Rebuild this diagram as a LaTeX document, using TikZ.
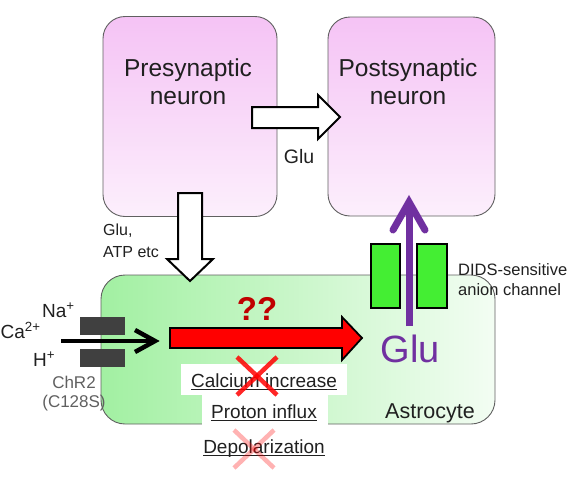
\documentclass[tikz,border=0pt]{standalone}
\usepackage{fontspec}
\setmainfont{Liberation Sans}
\definecolor{pinktop}{HTML}{F5C3F5}
\definecolor{pinkbot}{HTML}{FCEFFC}
\definecolor{greenL}{HTML}{A2F0A2}
\definecolor{greenR}{HTML}{F3FDF3}
\definecolor{chgreen}{HTML}{44EE33}
\definecolor{glupurple}{HTML}{7030A0}
\definecolor{qred}{HTML}{C00000}
\definecolor{chgray}{HTML}{404040}
\definecolor{labgray}{HTML}{606060}
\definecolor{txt}{HTML}{202020}
\definecolor{edge}{HTML}{606060}
\tikzset{
  x=1pt, y=-1pt,
  neuronbox/.style={draw=edge, line width=0.9pt, rounded corners=22pt,
     top color=pinktop, bottom color=pinkbot, inner sep=0pt},
  astrobox/.style={draw=edge, line width=0.9pt, rounded corners=24pt,
     left color=greenL, right color=greenR, inner sep=0pt},
  lbl/.style={inner sep=0pt, text=txt},
  blockarrow/.style={draw=black, line width=2pt, fill=white, line join=miter},
  chgate/.style={fill=chgray, draw=none},
  didsgate/.style={fill=chgreen, draw=black, line width=1.5pt},
  crossmark/.style={draw=red, line width=4.5pt},
  whitepad/.style={fill=white, draw=none},
}
\begin{document}
\begin{tikzpicture}
\useasboundingbox (0,0) rectangle (581,485);
% cells
\node[neuronbox, minimum width=174pt, minimum height=200pt] (pre) at (190,116.5) {};
\node[neuronbox, minimum width=167pt, minimum height=199pt] (post) at (411.5,116.5) {};
\node[astrobox, minimum width=394pt, minimum height=149pt] (astro) at (298,349.5) {};

% cell labels
\node[lbl, anchor=base, font=\fontsize{24.5}{28}\selectfont] (pret1) at (188,76) {Presynaptic};
\node[lbl, anchor=base, font=\fontsize{24.5}{28}\selectfont] (pret2) at (188,104) {neuron};
\node[lbl, anchor=base, font=\fontsize{24.5}{28}\selectfont] (postt1) at (408,76) {Postsynaptic};
\node[lbl, anchor=base, font=\fontsize{24.5}{28}\selectfont] (postt2) at (408,104) {neuron};
\node[lbl, anchor=base, font=\fontsize{21.5}{24}\selectfont] (astrot) at (430,418) {Astrocyte};

% white block arrows
\draw[blockarrow] (252,107) -- (318,107) -- (318,95) -- (340,117) -- (318,139) -- (318,128) -- (252,128) -- cycle;
\node[lbl, anchor=base, font=\fontsize{19.5}{22}\selectfont] (glu1) at (299,163) {Glu};
\draw[blockarrow] (178,193) -- (202,193) -- (202,259) -- (213,259) -- (190,281) -- (167,259) -- (178,259) -- cycle;
\node[lbl, anchor=base west, font=\fontsize{16}{18}\selectfont] (glu2) at (103,235) {Glu,};
\node[lbl, anchor=base west, font=\fontsize{16}{18}\selectfont] (atp) at (103,257) {ATP etc};

% ChR2 channel
\fill[chgate] (80,317) rectangle (125,335);
\fill[chgate] (80,349) rectangle (125,367);
\coordinate (ionsrc) at (61,341);
\coordinate (iontip) at (155,341);
\draw[line width=4.5pt] (ionsrc) -- (iontip);
\draw[line width=4.5pt, line join=miter] (iontip) ++(-20,-11) -- (iontip) -- ++(-20,11);
\node[lbl, anchor=base west, font=\fontsize{19}{21}\selectfont] (na) at (42,317) {Na\textsuperscript{+}};
\node[lbl, anchor=base west, font=\fontsize{19}{21}\selectfont] (ca) at (0.5,338) {Ca\textsuperscript{2+}};
\node[lbl, anchor=base west, font=\fontsize{19}{21}\selectfont] (h) at (33,366) {H\textsuperscript{+}};
\node[lbl, anchor=base, text=labgray, font=\fontsize{17}{20}\selectfont] (chr) at (74,388) {ChR2};
\node[lbl, anchor=base, text=labgray, font=\fontsize{17}{20}\selectfont] (chrm) at (74,407) {(C128S)};

% red arrow
\draw[fill=red, draw=black, line width=1.8pt, line join=miter] (170,328) -- (342,328) -- (342,317) -- (362,338) -- (342,360) -- (342,348) -- (170,348) -- cycle;
\node[lbl, anchor=base, text=qred, font=\fontsize{33}{36}\selectfont\bfseries] (qq) at (257,320) {??};

% text pads
\fill[whitepad] (181,364) rectangle (347,395);
\fill[whitepad] (202,395) rectangle (328,428);
\node[lbl, anchor=base, font=\fontsize{19}{22}\selectfont] (calc) at (264,387) {Calcium increase};
\node[lbl, anchor=base, font=\fontsize{19}{22}\selectfont] (prot) at (264,418) {Proton influx};
\node[lbl, anchor=base, font=\fontsize{19}{22}\selectfont] (depo) at (264,453) {Depolarization};
\draw[line width=0.9pt, txt] ([yshift=-2pt]calc.base west) -- ([yshift=-2pt]calc.base east);
\draw[line width=0.9pt, txt] ([yshift=-2pt]prot.base west) -- ([yshift=-2pt]prot.base east);
\draw[line width=0.9pt, txt] ([yshift=-2pt]depo.base west) -- ([yshift=-2pt]depo.base east);

% crosses
\draw[crossmark, draw opacity=0.85] (237,357) -- (277,395);
\draw[crossmark, draw opacity=0.85] (277,357) -- (237,395);
\draw[crossmark, draw opacity=0.3] (234,430) -- (274,468);
\draw[crossmark, draw opacity=0.3] (274,430) -- (234,468);

% DIDS channel
\draw[didsgate] (371,244) rectangle (400,308);
\draw[didsgate] (417,244) rectangle (447,308);
\node[lbl, anchor=base west, font=\fontsize{16.5}{20}\selectfont] (dids1) at (458,275) {DIDS-sensitive};
\node[lbl, anchor=base west, font=\fontsize{16.5}{20}\selectfont] (dids2) at (458,295) {anion channel};

% purple glutamate release
\coordinate (glusrc) at (409,326);
\coordinate (glutip) at (409,202);
\draw[glupurple, line width=7pt] (glusrc) -- (glutip);
\draw[glupurple, line width=7pt, line join=miter, line cap=round] (glutip) ++(-16,28) -- (glutip) -- ++(16,28);
\node[lbl, anchor=base, text=glupurple, font=\fontsize{38}{42}\selectfont] (glu3) at (410,362) {Glu};
\end{tikzpicture}
\end{document}
